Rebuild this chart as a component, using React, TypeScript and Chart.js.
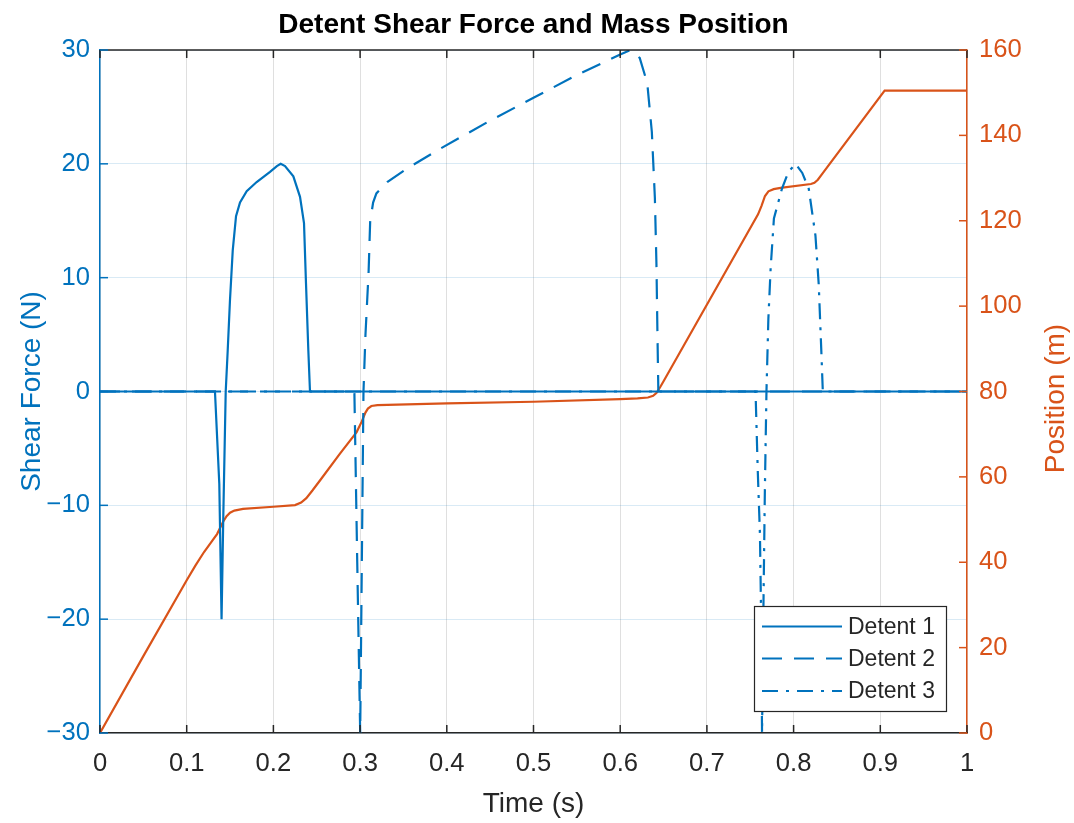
import React, { useEffect, useRef } from 'react';
import { Chart, registerables } from 'chart.js';

Chart.register(...registerables);

// ---------- text ----------
const TITLE = 'Detent Shear Force and Mass Position';
const X_LABEL = 'Time (s)';
const Y_LEFT_LABEL = 'Shear Force (N)';
const Y_RIGHT_LABEL = 'Position (m)';
const seriesNames = ['Detent 1', 'Detent 2', 'Detent 3', 'Position'];

// ---------- ticks ----------
const xTickValues = [0, 0.1, 0.2, 0.3, 0.4, 0.5, 0.6, 0.7, 0.8, 0.9, 1];
const xTickLabels = ['0', '0.1', '0.2', '0.3', '0.4', '0.5', '0.6', '0.7', '0.8', '0.9', '1'];
const leftTickValues = [-30, -20, -10, 0, 10, 20, 30];
const leftTickLabels = ['\u221230', '\u221220', '\u221210', '0', '10', '20', '30'];
const rightTickValues = [0, 20, 40, 60, 80, 100, 120, 140, 160];
const rightTickLabels = ['0', '20', '40', '60', '80', '100', '120', '140', '160'];

// ---------- data ----------
const detent1Time = [0, 0.1326, 0.1376, 0.1402, 0.1422, 0.145, 0.1473, 0.1499, 0.1531, 0.1569, 0.1615, 0.1692, 0.1807, 0.1961, 0.2040, 0.2084, 0.2134, 0.223, 0.2307, 0.2353, 0.2376, 0.2403, 0.2422, 1];
const detent1Force = [0, 0, -8.1, -20, -11, 0, 3.6, 8, 12.4, 15.4, 16.6, 17.6, 18.4, 19.3, 19.8, 20, 19.8, 18.9, 17.1, 14.8, 9.5, 3.6, 0, 0];

const detent2Time = [0, 0.2934, 0.2967, 0.3001, 0.302, 0.3039, 0.3062, 0.3098, 0.3116, 0.315, 0.3188, 0.3313, 0.3544, 0.3918, 0.45, 0.5, 0.55, 0.6, 0.612, 0.6225, 0.6312, 0.6365, 0.64, 0.6418, 0.6429, 0.644, 1];
const detent2Force = [0, 0, -15, -30, -15, 0, 5, 10.5, 14.9, 16.6, 17.4, 18.4, 19.6, 21.3, 23.8, 25.8, 27.8, 29.6, 30, 29.3, 27.1, 22.8, 17, 11.2, 5.4, 0, 0];

const detent3Time = [0, 0.7561, 0.7586, 0.7612, 0.7624, 0.7636, 0.7652, 0.7668, 0.7687, 0.7709, 0.7735, 0.7773, 0.7865, 0.794, 0.8022, 0.81, 0.8175, 0.8252, 0.829, 0.832, 0.8337, 1];
const detent3Force = [0, 0, -6.8, -12.6, -19, -30, -19, -9, 0, 6.4, 10.8, 15.2, 17.8, 19.3, 20, 19.2, 17.8, 13.7, 9.4, 3.5, 0, 0];

const positionTime = [0, 0.05, 0.1, 0.11, 0.12, 0.13, 0.135, 0.142, 0.146, 0.15, 0.155, 0.165, 0.2, 0.225, 0.232, 0.238, 0.245, 0.255, 0.277, 0.296, 0.302, 0.306, 0.309, 0.313, 0.32, 0.4, 0.5, 0.6, 0.62, 0.632, 0.638, 0.642, 0.646, 0.65, 0.759, 0.763, 0.767, 0.771, 0.777, 0.785, 0.82, 0.824, 0.828, 0.833, 0.905, 1];
const positionValue = [0, 18, 35.8, 39.2, 42.4, 45.2, 46.6, 49.5, 50.8, 51.6, 52.1, 52.5, 53, 53.4, 54, 55, 56.8, 59.5, 65.5, 70.5, 73, 75, 76, 76.6, 76.8, 77.2, 77.6, 78.2, 78.4, 78.6, 79, 79.7, 81, 82.4, 121.5, 123.5, 125.8, 126.9, 127.4, 127.7, 128.6, 128.9, 129.6, 131, 150.5, 150.5];

// ---------- style ----------
const BLUE = '#0072BD';
const ORANGE = '#D95319';
const DARK = '#262626';
const FONT = "'Liberation Sans', Arial, Helvetica, sans-serif";
const W = 1074;
const H = 823;
const DASH = [20, 12];
const DASHDOT = [16, 8, 3, 8];

const toPoints = (t: number[], v: number[]) => t.map((x, i) => ({ x, y: v[i] }));

const decorPlugin = {
  id: 'decor',
  afterDraw(chart: any) {
    const { ctx, chartArea: a, scales } = chart;
    const xs = scales.x;
    const yl = scales.y;
    const yr = scales.y2;
    ctx.save();

    // top box line
    ctx.strokeStyle = DARK;
    ctx.lineWidth = 1.5;
    ctx.beginPath();
    ctx.moveTo(a.left, a.top);
    ctx.lineTo(a.right, a.top);
    ctx.stroke();

    // inward tick marks
    const TL = 8;
    ctx.strokeStyle = DARK;
    ctx.lineWidth = 1.5;
    xTickValues.forEach((v) => {
      const px = xs.getPixelForValue(v);
      ctx.beginPath();
      ctx.moveTo(px, a.bottom);
      ctx.lineTo(px, a.bottom - TL);
      ctx.moveTo(px, a.top);
      ctx.lineTo(px, a.top + TL);
      ctx.stroke();
    });
    ctx.strokeStyle = BLUE;
    leftTickValues.forEach((v) => {
      const py = yl.getPixelForValue(v);
      ctx.beginPath();
      ctx.moveTo(a.left, py);
      ctx.lineTo(a.left + TL, py);
      ctx.stroke();
    });
    ctx.strokeStyle = ORANGE;
    rightTickValues.forEach((v) => {
      const py = yr.getPixelForValue(v);
      ctx.beginPath();
      ctx.moveTo(a.right, py);
      ctx.lineTo(a.right - TL, py);
      ctx.stroke();
    });

    // title
    const cx = (a.left + a.right) / 2;
    const cy = (a.top + a.bottom) / 2;
    ctx.fillStyle = '#000';
    ctx.font = `bold 28px ${FONT}`;
    ctx.textAlign = 'center';
    ctx.textBaseline = 'alphabetic';
    ctx.fillText(TITLE, cx, 33);

    // x label
    ctx.fillStyle = DARK;
    ctx.font = `28px ${FONT}`;
    ctx.fillText(X_LABEL, cx, 812);

    // left label
    ctx.save();
    ctx.translate(40, cy);
    ctx.rotate(-Math.PI / 2);
    ctx.fillStyle = BLUE;
    ctx.fillText(Y_LEFT_LABEL, 0, 0);
    ctx.restore();

    // right label
    ctx.save();
    ctx.translate(1064, cy + 7);
    ctx.rotate(-Math.PI / 2);
    ctx.fillStyle = ORANGE;
    ctx.fillText(Y_RIGHT_LABEL, 0, 0);
    ctx.restore();

    // legend
    const lx = 754, ly = 606, lw = 192, lh = 105;
    ctx.fillStyle = '#fff';
    ctx.fillRect(lx, ly, lw, lh);
    ctx.strokeStyle = DARK;
    ctx.lineWidth = 1.2;
    ctx.strokeRect(lx + 0.5, ly + 0.5, lw, lh);
    const rows = [626.5, 658.5, 691];
    const dashes = [[], DASH, DASHDOT];
    ctx.font = `23px ${FONT}`;
    ctx.textAlign = 'left';
    ctx.textBaseline = 'middle';
    for (let i = 0; i < 3; i++) {
      ctx.strokeStyle = BLUE;
      ctx.lineWidth = 2.2;
      ctx.setLineDash(dashes[i]);
      ctx.beginPath();
      ctx.moveTo(762, rows[i]);
      ctx.lineTo(842, rows[i]);
      ctx.stroke();
      ctx.setLineDash([]);
      ctx.fillStyle = DARK;
      ctx.fillText(chart.data.datasets[i].label, 848, rows[i] + 1);
    }
    ctx.restore();
  },
};

export default function App() {
  const ref = useRef<HTMLCanvasElement | null>(null);

  useEffect(() => {
    if (!ref.current) return;
    const lineBase = {
      showLine: true,
      pointRadius: 0,
      borderWidth: 2.2,
      tension: 0,
      fill: false,
    };
    const chart = new Chart(ref.current, {
      type: 'scatter',
      data: {
        datasets: [
          { ...lineBase, label: seriesNames[0], data: toPoints(detent1Time, detent1Force), borderColor: BLUE, yAxisID: 'y' },
          { ...lineBase, label: seriesNames[1], data: toPoints(detent2Time, detent2Force), borderColor: BLUE, borderDash: DASH, yAxisID: 'y' },
          { ...lineBase, label: seriesNames[2], data: toPoints(detent3Time, detent3Force), borderColor: BLUE, borderDash: DASHDOT, yAxisID: 'y' },
          { ...lineBase, label: seriesNames[3], data: toPoints(positionTime, positionValue), borderColor: ORANGE, yAxisID: 'y2' },
        ] as any,
      },
      options: {
        animation: false,
        responsive: false,
        maintainAspectRatio: false,
        layout: { padding: { top: 50, left: 0, right: 0, bottom: 0 } },
        plugins: {
          legend: { display: false },
          tooltip: { enabled: false },
          title: { display: false },
        },
        scales: {
          x: {
            type: 'linear',
            min: 0,
            max: 1,
            afterFit: (s: any) => { s.height = 90; },
            afterBuildTicks: (s: any) => { s.ticks = xTickValues.map((v) => ({ value: v })); },
            ticks: {
              autoSkip: false,
              maxRotation: 0,
              padding: 16,
              color: DARK,
              font: { family: FONT, size: 25.6 },
              callback: (_v: any, i: number) => xTickLabels[i],
            },
            grid: { color: 'rgba(38,38,38,0.15)', lineWidth: 1, drawTicks: false },
            border: { display: true, color: DARK, width: 1.5 },
          },
          y: {
            type: 'linear',
            position: 'left',
            min: -30,
            max: 30,
            afterFit: (s: any) => { s.width = 100; },
            afterBuildTicks: (s: any) => { s.ticks = leftTickValues.map((v) => ({ value: v })); },
            ticks: {
              autoSkip: false,
              padding: 10,
              color: BLUE,
              font: { family: FONT, size: 25.6 },
              callback: (_v: any, i: number) => leftTickLabels[i],
            },
            grid: { color: 'rgba(0,114,189,0.15)', lineWidth: 1, drawTicks: false },
            border: { display: true, color: BLUE, width: 1.5 },
          },
          y2: {
            type: 'linear',
            position: 'right',
            min: 0,
            max: 160,
            afterFit: (s: any) => { s.width = W - 967; },
            afterBuildTicks: (s: any) => { s.ticks = rightTickValues.map((v) => ({ value: v })); },
            ticks: {
              autoSkip: false,
              padding: 12,
              color: ORANGE,
              font: { family: FONT, size: 25.6 },
              callback: (_v: any, i: number) => rightTickLabels[i],
            },
            grid: { display: false, drawOnChartArea: false, drawTicks: false },
            border: { display: true, color: ORANGE, width: 1.5 },
          },
        },
      } as any,
      plugins: [decorPlugin],
    });
    return () => chart.destroy();
  }, []);

  return (
    <div style={{ position: 'absolute', left: 0, top: 0, width: W, height: H, background: '#fff' }}>
      <canvas ref={ref} width={W} height={H} style={{ display: 'block' }} />
    </div>
  );
}
